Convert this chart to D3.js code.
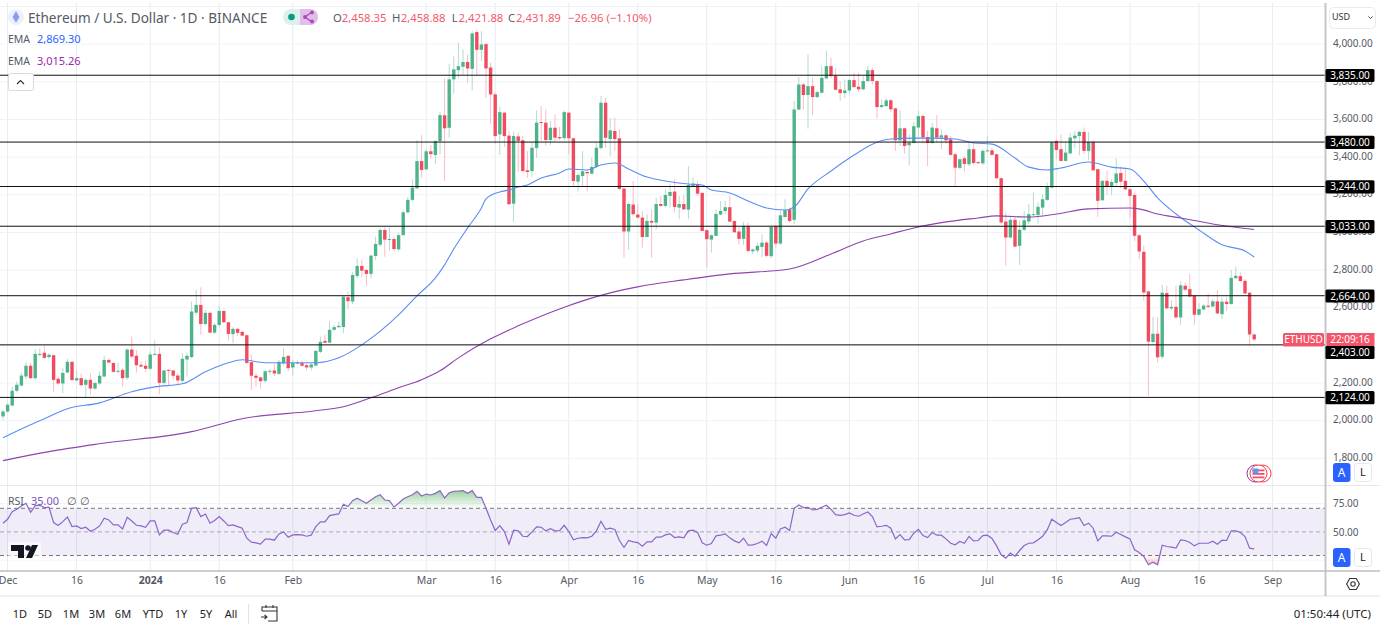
<!DOCTYPE html>
<html><head><meta charset="utf-8"><title>Ethereum / U.S. Dollar</title>
<script src="https://cdn.jsdelivr.net/npm/d3@7/dist/d3.min.js"></script>
<style>html,body{margin:0;padding:0;background:#fff;overflow:hidden}svg{display:block}text{font-family:"Noto Sans",Roboto,sans-serif}</style>
</head><body><svg id="c" width="1380" height="627"></svg>
<script>
const opens=[2023,2049,2081,2159,2187,2235,2292,2226,2352,2361,
2338,2348,2223,2198,2256,2313,2214,2226,2191,2217,
2171,2198,2235,2323,2307,2262,2270,2228,2378,2345,
2297,2292,2276,2352,2355,2201,2270,2267,2240,2212,
2325,2338,2574,2615,2514,2573,2468,2509,2583,2523,
2460,2488,2472,2454,2311,2239,2230,2212,2262,2267,
2249,2304,2345,2283,2306,2306,2295,2283,2293,2366,
2424,2415,2483,2497,2498,2656,2633,2769,2822,2801,
2780,2875,2935,3013,2962,2965,2910,2986,3107,3173,
3234,3379,3335,3431,3411,3485,3622,3556,3813,3862,
3880,3905,3869,4064,3970,4000,3876,3733,3521,3636,
3514,3153,3510,3489,3330,3326,3448,3586,3583,3491,
3556,3507,3501,3636,3500,3270,3300,3321,3312,3348,
3448,3689,3496,3539,3500,3233,3005,3148,3095,3079,
2976,3061,3052,3151,3141,3194,3217,3132,3151,3121,
3247,3256,3210,3012,2962,2982,3095,3114,3134,3061,
3005,2966,3035,2900,2904,2923,2946,2874,3035,2941,
3082,3123,3067,3653,3786,3730,3777,3719,3742,3818,
3883,3834,3760,3740,3754,3809,3774,3760,3804,3862,
3804,3666,3671,3702,3659,3489,3553,3463,3475,3557,
3618,3507,3475,3553,3504,3516,3495,3415,3343,3394,
3362,3442,3373,3367,3433,3436,3415,3288,3058,2973,
3067,2929,3014,3058,3093,3093,3132,3173,3238,3486,
3442,3380,3420,3500,3512,3534,3433,3481,3336,3171,
3274,3242,3263,3316,3274,3229,3199,2985,2897,2687,
2418,2462,2340,2678,2597,2605,2549,2717,2699,2664,
2563,2591,2611,2607,2634,2566,2632,2620,2757,2768,
2743,2680,2458.35];
const closes=[2049,2085,2159,2191,2240,2292,2226,2355,2355,2334,
2350,2217,2198,2254,2313,2216,2226,2189,2217,2171,
2200,2239,2323,2309,2260,2265,2226,2378,2341,2295,
2288,2276,2352,2355,2201,2267,2267,2239,2214,2329,
2345,2580,2615,2514,2573,2468,2509,2583,2523,2461,
2488,2467,2452,2307,2239,2228,2210,2263,2265,2251,
2313,2339,2279,2306,2309,2292,2283,2299,2371,2419,
2414,2483,2497,2504,2659,2635,2774,2822,2797,2780,
2877,2939,3013,2962,2965,2912,2986,3107,3173,3238,
3379,3332,3431,3416,3485,3623,3553,3813,3866,3883,
3905,3871,4057,3970,3998,3871,3733,3512,3639,3512,
3150,3512,3486,3326,3321,3450,3583,3581,3491,3556,
3503,3500,3639,3500,3273,3305,3325,3314,3348,3450,
3689,3503,3542,3496,3231,3005,3151,3097,3079,2976,
3061,3052,3151,3141,3199,3215,3135,3151,3123,3252,
3259,3206,3008,2964,2985,3098,3114,3134,3058,3001,
2966,3035,2902,2909,2929,2946,2876,3029,2941,3091,
3118,3061,3653,3786,3730,3777,3719,3745,3821,3883,
3830,3758,3740,3754,3809,3772,3760,3804,3862,3804,
3666,3676,3701,3654,3489,3553,3459,3477,3564,3618,
3504,3475,3557,3504,3516,3489,3412,3344,3389,3364,
3442,3369,3369,3433,3436,3412,3288,3053,2973,3067,
2925,3014,3065,3097,3097,3136,3176,3244,3479,3438,
3380,3424,3504,3514,3534,3433,3481,3330,3168,3274,
3242,3268,3313,3270,3229,3194,2982,2899,2681,2420,
2462,2337,2680,2597,2605,2549,2719,2696,2660,2563,
2593,2611,2605,2634,2570,2632,2620,2759,2770,2742,
2676,2458,2431.89];
const highs=[2058,2094,2182,2208,2256,2309,2306,2380,2385,2398,
2359,2350,2235,2279,2329,2315,2270,2253,2226,2253,
2208,2262,2345,2332,2309,2309,2279,2385,2447,2376,
2315,2320,2368,2426,2391,2270,2274,2270,2253,2359,
2362,2633,2695,2709,2589,2580,2518,2610,2585,2527,
2497,2491,2479,2461,2350,2253,2235,2270,2274,2302,
2323,2385,2346,2323,2323,2320,2309,2306,2376,2447,
2456,2527,2509,2527,2663,2686,2787,2863,2854,2804,
2880,2978,3022,3027,3027,2978,2999,3119,3188,3282,
3489,3517,3441,3464,3490,3641,3818,3896,3936,4007,
3972,3945,4069,4078,4069,4007,3901,3742,3666,3641,
3539,3535,3530,3512,3432,3477,3648,3671,3653,3592,
3627,3560,3648,3639,3503,3318,3432,3335,3397,3477,
3724,3715,3609,3609,3547,3238,3158,3273,3150,3114,
3097,3123,3185,3194,3229,3259,3282,3194,3199,3353,
3291,3273,3211,3015,2990,3123,3167,3167,3194,3065,
3029,3056,3052,2916,2946,2990,2955,3040,3040,3114,
3176,3132,3698,3825,3795,3945,3822,3754,3883,3966,
3928,3874,3804,3813,3818,3848,3848,3830,3883,3874,
3807,3707,3712,3707,3663,3648,3557,3521,3588,3645,
3627,3539,3583,3624,3548,3521,3512,3424,3394,3406,
3477,3477,3380,3442,3512,3450,3419,3291,3106,3088,
3088,3062,3115,3150,3212,3159,3203,3265,3489,3495,
3521,3482,3530,3539,3542,3557,3535,3486,3339,3279,
3327,3283,3394,3350,3336,3235,3212,2991,2929,2690,
2552,2549,2722,2717,2641,2717,2740,2734,2779,2669,
2623,2620,2676,2646,2694,2655,2655,2800,2818,2787,
2752,2683,2458.88];
const lows=[2005,2041,2076,2150,2182,2221,2223,2217,2341,2329,
2327,2155,2191,2147,2253,2212,2208,2182,2120,2138,
2164,2191,2230,2306,2253,2253,2182,2217,2332,2256,
2285,2258,2270,2346,2141,2191,2187,2217,2191,2200,
2235,2332,2562,2456,2506,2465,2461,2500,2518,2426,
2412,2451,2447,2302,2164,2182,2170,2200,2244,2239,
2244,2297,2262,2240,2297,2288,2267,2267,2288,2359,
2412,2412,2474,2491,2465,2592,2619,2757,2762,2716,
2757,2854,2925,2871,2903,2903,2903,2981,3100,3164,
3229,3291,3332,3394,3362,3415,3273,3503,3737,3818,
3839,3795,3754,3830,3910,3715,3577,3471,3411,3454,
3146,3056,3323,3323,3291,3295,3397,3486,3459,3464,
3486,3489,3493,3415,3242,3217,3247,3217,3309,3344,
3441,3450,3406,3432,3227,2867,2909,3088,3075,2920,
2973,2867,3017,3135,3132,3132,3105,3070,3118,3070,
3243,3194,3005,2814,2893,2982,3091,3097,3054,2998,
2937,2934,2893,2884,2893,2870,2867,2863,2920,2934,
3079,3052,3044,3648,3653,3551,3623,3712,3737,3813,
3818,3754,3698,3715,3733,3768,3747,3754,3800,3786,
3604,3662,3666,3641,3433,3459,3419,3359,3472,3500,
3472,3353,3472,3477,3442,3472,3406,3242,3336,3323,
3353,3359,3362,3359,3424,3406,3281,3044,2823,2970,
2920,2826,3008,3044,3088,3047,3088,3168,3235,3389,
3376,3376,3415,3450,3410,3419,3383,3327,3083,3168,
3199,3199,3242,3235,3224,3079,2955,2858,2637,2133,
2411,2310,2328,2593,2588,2540,2510,2690,2655,2510,
2558,2588,2598,2602,2566,2538,2584,2616,2752,2734,
2673,2395,2421.88];
const emaFastDays=[0,6,9,14,21,28,33,39,44,49,52,57,61,68,73,78,86,90,94,96,98,101,104,105,108,110,112,114,117,121,123,127,130,133,136,140,144,149,152,154,158,162,166,170,172,175,180,185,189,193,198,202,207,211,215,220,223,227,230,236,241,245,248,251,255,260,265,270,272];
const emaFastValues=[1910,1979,2011,2064,2095,2154,2180,2196,2260,2308,2324,2308,2308,2308,2334,2403,2562,2663,2759,2828,2912,3024,3130,3178,3215,3225,3241,3252,3289,3316,3337,3332,3358,3369,3337,3294,3273,3257,3252,3225,3210,3167,3130,3119,3135,3231,3326,3411,3469,3496,3501,3501,3496,3475,3469,3395,3347,3332,3342,3374,3347,3337,3273,3183,3098,3013,2934,2902,2869.30];
const emaSlowDays=[0,10,21,41,52,68,74,80,86,91,95,99,106,112,121,132,138,148,158,171,180,187,193,198,205,212,216,223,229,236,245,247,251,256,263,272];
const emaSlowValues=[1788,1836,1878,1942,2011,2053,2074,2122,2175,2218,2265,2334,2435,2504,2594,2679,2711,2748,2780,2806,2886,2955,2992,3024,3056,3077,3088,3082,3098,3125,3130,3125,3098,3077,3045,3015.26];
const rsiValues=[59.2,63.4,71.5,73.9,77.5,80.3,70.8,77.8,78.2,75.7,
76.1,59.9,56.7,60.9,65.8,55.6,56.3,53.5,54.9,50.7,
52.8,56.3,64.4,62.7,57.4,57.4,53.2,65.5,61.6,57,
56.3,54.9,61.6,61.6,46.8,51.8,51.8,49.3,47.5,58.1,
59.9,75,75.7,66.2,69,59.2,62,66.2,61.6,56.7,
57.4,55.6,53.9,43.3,39.1,38.4,37,42.3,42.3,41.2,
47.9,50,44.4,46.8,47.2,46.8,45.4,46.5,55.6,60.6,
60.6,67.3,68.3,69,79.2,76.8,83.1,85.6,83.1,80.3,
83.8,87.3,89.4,83.8,83.1,76.4,80.3,84.9,87.3,89.4,
93,88,90.1,89.1,90.8,93.7,85.9,91.5,93,93.3,
93.7,90.8,93.7,86.6,86.6,75,62.7,51.4,56.7,50.4,
37,51.8,51.1,45.4,45.1,50,55.3,54.9,51.1,53.5,
51.1,51.4,57,50.4,41.6,43.3,44,43.7,45.4,51.1,
61.3,52.8,53.9,52.5,40.9,33.5,40.9,39.4,38.7,34.9,
39.4,39.4,44.4,44.4,46.8,47.9,44,44.7,43.7,51.1,
51.8,49.3,38.4,35.9,37.7,45.8,46.5,47.9,43.7,40.5,
38.4,43.3,35.9,36.3,37.7,40.2,35.6,48.2,43.3,53.2,
54.9,51.4,75,78.5,75.7,76.1,73.2,73.9,76.1,78.2,
73.9,68.3,67.6,68.3,70.1,67.6,66.6,69,71.1,66.2,
55.3,56,57,53.9,42.6,47.2,41.6,41.9,48.6,52.8,
46.1,44,49.3,46.5,46.5,42.6,38,36.3,39.8,38,
45.1,40.5,40.9,46.1,46.5,43,35.2,25.7,22.2,27.5,
24.3,30.3,35.6,38,38.4,41.6,45.4,52.1,63.4,59.9,
56.7,59.9,63.4,64.1,65.1,56.7,59.2,53.9,40.5,45.8,
45.8,45.4,49.7,47.2,44.7,42.6,31,28.2,24,15.2,
18,15.2,35.9,34.5,33.8,32.8,41.6,40.9,38.7,35.2,
38,38,38,40.2,37,41.2,40.9,51.1,51.1,49.3,
45.1,32.8,32.1];
const levels=[3835,3480,3244,3033,2664,2403,2124];
const priceTicks=[4000,3800,3600,3400,3200,3000,2800,2600,2200,2000,1800];
const priceGrid=[4200,4000,3800,3600,3400,3200,3000,2800,2600,2400,2200,2000,1800];
const rsiTicks=[75,50];
const rsiDashes=[75,50,25];
const rsiGrid=[80,20];
const dateTicks=["2023-12-01","2023-12-16","2024-01-01","2024-01-16","2024-02-01","2024-03-01","2024-03-16","2024-04-01","2024-04-16","2024-05-01","2024-05-16","2024-06-01","2024-06-16","2024-07-01","2024-07-16","2024-08-01","2024-08-16","2024-09-01"];
const dateLabels=["Dec","16","2024","16","Feb","Mar","16","Apr","16","May","16","Jun","16","Jul","16","Aug","16","Sep"];
const rangeLabels=["1D","5D","1M","3M","6M","YTD","1Y","5Y","All"];

const GREEN="#4FB389",RED="#F04B5F",GREEN_W="#B4DAD2",RED_W="#F9BCC5",TXT="#555a66";
const firstDay=new Date(Date.UTC(2023,10,30));
const dayOf=i=>d3.utcDay.offset(firstDay,i);
const x=d3.scaleUtc().domain([firstDay,new Date(Date.UTC(2024,8,1))]).range([3,1272.6]);
const y=d3.scaleLinear().domain([1800,4000]).range([458.4,44.15]);
const r=d3.scaleLinear().domain([25,75]).range([555.5,508.3]);
const PANE_R=1325;

const svg=d3.select("#c");
const defs=svg.append("defs");
const ob=defs.append("linearGradient").attr("id","ob").attr("x1",0).attr("x2",0).attr("y1",0).attr("y2",1);
ob.append("stop").attr("offset","0%").attr("stop-color","#4CAF50").attr("stop-opacity",.55);
ob.append("stop").attr("offset","100%").attr("stop-color","#4CAF50").attr("stop-opacity",0);
const os=defs.append("linearGradient").attr("id","os").attr("x1",0).attr("x2",0).attr("y1",0).attr("y2",1);
os.append("stop").attr("offset","0%").attr("stop-color","#F44336").attr("stop-opacity",0);
os.append("stop").attr("offset","100%").attr("stop-color","#F44336").attr("stop-opacity",.35);
defs.append("clipPath").attr("id","pane").append("rect").attr("x",0).attr("y",0).attr("width",PANE_R).attr("height",485);

/* grid */
const tickDates=dateTicks.map(d=>new Date(d+"T00:00:00Z"));
const grid=svg.append("g");
grid.selectAll("line.v").data(tickDates).join("line").attr("x1",d=>x(d)).attr("x2",d=>x(d)).attr("y1",3).attr("y2",571).attr("stroke","#E3EDF3");
grid.selectAll("line.h").data(priceGrid).join("line").attr("class","h").attr("x1",0).attr("x2",PANE_R).attr("y1",d=>y(d)).attr("y2",d=>y(d)).attr("stroke","#EFF3F8");
grid.selectAll("line.rg").data(rsiGrid).join("line").attr("class","rg").attr("x1",0).attr("x2",PANE_R).attr("y1",d=>r(d)).attr("y2",d=>r(d)).attr("stroke","#EFF3F8");

const pane=svg.append("g").attr("clip-path","url(#pane)");
const lineOf=(days,vals)=>d3.line().curve(d3.curveMonotoneX).x(i=>x(dayOf(days[i]))).y(i=>y(vals[i]))(d3.range(days.length));

/* candles */
const idx=d3.range(opens.length);
const bw=3.4;
pane.selectAll("line.w").data(idx).join("line").attr("class","w")
 .attr("x1",i=>x(dayOf(i))).attr("x2",i=>x(dayOf(i))).attr("y1",i=>y(highs[i])).attr("y2",i=>y(lows[i]))
 .attr("stroke",i=>closes[i]>=opens[i]?GREEN_W:RED_W).attr("stroke-width",1);
pane.selectAll("rect.b").data(idx).join("rect").attr("class","b")
 .attr("x",i=>x(dayOf(i))-bw/2).attr("width",bw)
 .attr("y",i=>y(Math.max(opens[i],closes[i])))
 .attr("height",i=>Math.max(1,Math.abs(y(opens[i])-y(closes[i]))))
 .attr("fill",i=>closes[i]>=opens[i]?GREEN:RED);
pane.append("path").attr("d",lineOf(emaFastDays,emaFastValues)).attr("fill","none").attr("stroke","#5B8DF5").attr("stroke-width",1.1);
pane.append("path").attr("d",lineOf(emaSlowDays,emaSlowValues)).attr("fill","none").attr("stroke","#8E44AD").attr("stroke-width",1.1);

/* levels */
svg.append("g").selectAll("line").data(levels).join("line").attr("x1",0).attr("x2",PANE_R).attr("y1",d=>y(d)).attr("y2",d=>y(d)).attr("stroke","#111").attr("stroke-width",1);

/* RSI */
svg.append("rect").attr("x",0).attr("width",PANE_R).attr("y",r(75)).attr("height",r(25)-r(75)).attr("fill","#7E57C2").attr("opacity",.11);
const rsiIdx=d3.range(rsiValues.length);
svg.append("path").attr("fill","url(#ob)").attr("d",d3.area().x(i=>x(dayOf(i))).y0(r(75)).y1(i=>r(Math.max(rsiValues[i],75)))(rsiIdx));
svg.append("path").attr("fill","url(#os)").attr("d",d3.area().x(i=>x(dayOf(i))).y0(r(25)).y1(i=>r(Math.min(rsiValues[i],25)))(rsiIdx));
svg.append("g").selectAll("line").data(rsiDashes).join("line").attr("x1",0).attr("x2",PANE_R).attr("y1",d=>r(d)).attr("y2",d=>r(d))
 .attr("stroke",d=>d===50?"#a9a6b8":"#777").attr("stroke-dasharray","4 3");
svg.append("path").attr("d",d3.line().x(i=>x(dayOf(i))).y(i=>r(rsiValues[i]))(rsiIdx)).attr("fill","none").attr("stroke","#8A66CC").attr("stroke-width",1.2);

/* frame */
svg.append("line").attr("x1",0).attr("x2",1380).attr("y1",485.5).attr("y2",485.5).attr("stroke","#E4E8EF");
svg.append("line").attr("x1",0).attr("x2",1380).attr("y1",571).attr("y2",571).attr("stroke","#9a9ca3").attr("stroke-width",1.2);
svg.append("line").attr("x1",0).attr("x2",1380).attr("y1",596).attr("y2",596).attr("stroke","#E1E3EA");
svg.append("line").attr("x1",1325.5).attr("x2",1325.5).attr("y1",3).attr("y2",596).attr("stroke","#C4C6CC").attr("stroke-width",2);

/* axes */
const axX=d3.axisBottom(x).tickValues(tickDates).tickSize(0).tickPadding(0).tickFormat((d,i)=>dateLabels[i]);
const gx=svg.append("g").attr("transform","translate(0,575)").call(axX);
gx.select(".domain").remove();
gx.selectAll("text").attr("fill",TXT).attr("font-size",10.5).attr("dy","0.85em").attr("font-weight",(d,i)=>dateLabels[i]==="2024"?700:400);
const axY=d3.axisRight(y).tickValues(priceTicks).tickSize(0).tickPadding(0).tickFormat(d3.format(",.2f"));
const gy=svg.append("g").attr("transform","translate(1333,-1)").call(axY);
gy.select(".domain").remove();
gy.selectAll("text").attr("fill",TXT).attr("font-size",10);
const axR=d3.axisRight(r).tickValues(rsiTicks).tickSize(0).tickPadding(0).tickFormat(d3.format(".2f"));
const gr=svg.append("g").attr("transform","translate(1333,0)").call(axR);
gr.select(".domain").remove();
gr.selectAll("text").attr("fill",TXT).attr("font-size",10).attr("transform",d=>d===75?"translate(0,-5.5)":null);

function label(t,px,py,o={}){return svg.append("text").attr("x",px).attr("y",py).attr("dy","0.35em").attr("font-size",o.size||11).attr("fill",o.fill||TXT).attr("text-anchor",o.anchor||"start").attr("font-weight",o.weight||400).text(t);}

/* level tags */
const tagOffset={2403:7.3};
levels.forEach(v=>{const cy=y(v)+(tagOffset[v]||0)+.3;
 svg.append("rect").attr("x",1325.5).attr("y",cy-6.6).attr("width",49).attr("height",13.2).attr("rx",1.5).attr("fill","#000");
 label(d3.format(",.2f")(v),1350,cy,{fill:"#fff",size:10,anchor:"middle"});});
svg.append("rect").attr("x",1283).attr("y",333).attr("width",41).attr("height",13.4).attr("rx",1.5).attr("fill","#F2566C");
label("ETHUSD",1303.5,339.8,{fill:"#fff",size:10,anchor:"middle"});
svg.append("rect").attr("x",1326.5).attr("y",333).attr("width",48).attr("height",13).attr("fill","#F2566C");
label("22:09:16",1350,339.5,{fill:"#fff",size:10,anchor:"middle"});

/* header */
svg.append("circle").attr("cx",16).attr("cy",17).attr("r",8).attr("fill","#EEF0F8");
svg.append("path").attr("d","M16 11L19.5 17L16 23L12.5 17Z").attr("fill","#8F9BEF");
label("Ethereum / U.S. Dollar · 1D · BINANCE",28,18,{size:13.6});
svg.append("rect").attr("x",283).attr("y",9).attr("width",35).attr("height",16).attr("rx",8).attr("fill","#DDF0EC");
svg.append("path").attr("d","M300 9h10a8 8 0 0 1 0 16h-10Z").attr("fill","#E1BEE7");
svg.append("circle").attr("cx",291.5).attr("cy",17).attr("r",3.3).attr("fill","#089981");
svg.append("path").attr("d","M312 12L305 17L312 22").attr("fill","none").attr("stroke","#AB47BC").attr("stroke-width",1.3);
[[312,12.5],[305,17],[312,21.5]].forEach(p=>svg.append("circle").attr("cx",p[0]).attr("cy",p[1]).attr("r",1.9).attr("fill","#AB47BC"));
const HDR_RED="#F2596C";
[["O",333],["H",392],["L",451.7],["C",508]].forEach(d=>label(d[0],d[1],18,{size:11.3}));
[["2,458.35",341.7],["2,458.88",400.7],["2,421.88",458.5],["2,431.89",516],["−26.96",568],["(−1.10%)",606.5]].forEach(d=>label(d[0],d[1],18,{size:11.3,fill:HDR_RED}));
label("EMA",8,39,{size:10.5});label("2,869.30",37,39,{size:11,fill:"#2962FF"});
label("EMA",8,61,{size:10.5});label("3,015.26",37,61,{size:11,fill:"#9C27B0"});
svg.append("rect").attr("x",8.5).attr("y",73.5).attr("width",25).attr("height",17).attr("rx",2).attr("fill","#fff").attr("stroke","#D8DAE0");
svg.append("path").attr("d","M17 84L20.5 80.5L24 84").attr("fill","none").attr("stroke","#333").attr("stroke-width",1.2);
label("RSI",8,501,{size:10.5});label("35.00",31,501,{size:11,fill:"#7E57C2"});
label("∅",67,501,{size:10.5});label("∅",80,501,{size:10.5});

/* logo */
svg.append("path").attr("fill","#fff").attr("d","M8 542H41V561H8Z").attr("opacity",.55);
svg.append("path").attr("fill","#131722").attr("d","M11 545H24V558H18V551H11Z");
svg.append("circle").attr("cx",28).attr("cy",548).attr("r",2.8).attr("fill","#131722");
svg.append("path").attr("fill","#131722").attr("d","M32 545H38L32 558H26Z");

/* flag icon */
svg.append("circle").attr("cx",1255.5).attr("cy",473.5).attr("r",8.5).attr("fill","#fff").attr("stroke","#9C27B0").attr("stroke-width",1);
svg.append("circle").attr("cx",1262.5).attr("cy",473.5).attr("r",8.5).attr("fill","#fff").attr("stroke","#F23645").attr("stroke-width",1);
svg.append("circle").attr("cx",1258.5).attr("cy",473.5).attr("r",8.5).attr("fill","#fff").attr("stroke","#F23645").attr("stroke-width",1);
svg.append("circle").attr("cx",1258.5).attr("cy",473.5).attr("r",6.8).attr("fill","#fff");
[469.5,473,476.5].forEach(v=>svg.append("rect").attr("x",1252.5).attr("y",v).attr("width",12).attr("height",1.8).attr("fill","#F0506A"));
svg.append("rect").attr("x",1252.5).attr("y",468.5).attr("width",6).attr("height",5).attr("fill","#5B9BE8");

/* currency + A/L */
svg.append("rect").attr("x",1329.5).attr("y",7.5).attr("width",46).attr("height",21).attr("rx",4).attr("fill","#fff").attr("stroke","#E9EBF0");
label("USD",1332,17,{size:9,fill:"#333"});
svg.append("path").attr("d","M1368.5 16.5L1370.5 18.5L1372.5 16.5").attr("fill","none").attr("stroke","#444").attr("stroke-width",1);
[463,548].forEach(t=>{
 svg.append("rect").attr("x",1333).attr("y",t).attr("width",17.5).attr("height",19).attr("rx",3).attr("fill","#2962FF");
 label("A",1341.7,t+9.5,{fill:"#fff",size:12,anchor:"middle"});
 svg.append("rect").attr("x",1354.5).attr("y",t+.5).attr("width",17).attr("height",18).attr("rx",3).attr("fill","#fff").attr("stroke","#E5E7EC");
 label("L",1363,t+9.5,{fill:"#222",size:11,anchor:"middle"});
});
svg.append("path").attr("d","M1349.8 578.5L1356.2 578.5L1359.4 584L1356.2 589.5L1349.8 589.5L1346.6 584Z").attr("fill","none").attr("stroke","#333").attr("stroke-width",1.1);
svg.append("circle").attr("cx",1353).attr("cy",584).attr("r",2.2).attr("fill","none").attr("stroke","#333").attr("stroke-width",1.1);

/* bottom bar */
const rangeX=[20,45,71,97,123,153,181,206,231];
rangeLabels.forEach((t,i)=>label(t,rangeX[i],614,{size:11,fill:"#222",anchor:"middle"}));
svg.append("line").attr("x1",248.5).attr("x2",248.5).attr("y1",604).attr("y2",624).attr("stroke","#E1E3EA");
svg.append("path").attr("d","M262 611V607H277V621H268M262 611H277M266 605V608M273 605V608M261 617H267M264.5 615L267 617L264.5 619").attr("fill","none").attr("stroke","#333").attr("stroke-width",1.1);
label("01:50:44 (UTC)",1371,614,{size:11.5,fill:"#222",anchor:"end"});
</script></body></html>
